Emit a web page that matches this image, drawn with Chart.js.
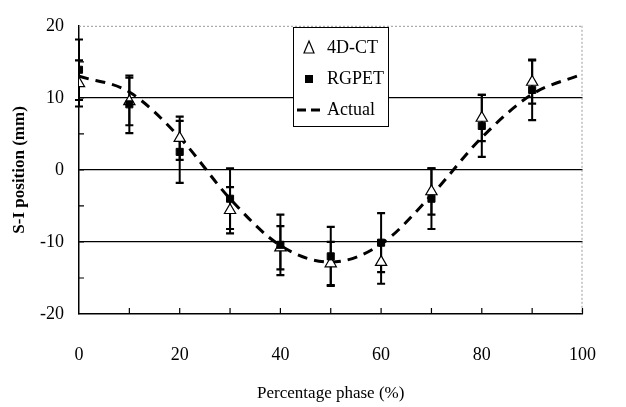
<!DOCTYPE html>
<html>
<head>
<meta charset="utf-8">
<script src="https://cdn.jsdelivr.net/npm/chart.js@4/dist/chart.umd.min.js"></script>
<style>
  html, body { margin: 0; padding: 0; background: #fff; }
  #wrap { width: 626px; height: 407px; position: relative; }
</style>
</head>
<body>
<div id="wrap"><canvas id="c" width="626" height="407"></canvas></div>
<script>
// ---- data ----
const phases = [0, 10, 20, 30, 40, 50, 60, 70, 80, 90];
const ct4d = [12, 9.5, 4.4, -5.6, -10.8, -13, -12.8, -3, 7.2, 12.2];
const ct4dErr = [3.2, 3.3, 3.0, 3.2, 3.0, 3.0, 3.0, 3.2, 3.2, 3.0];
const rgpet = [13.9, 9.1, 2.5, -4, -10.4, -12, -10.1, -4, 6.1, 11.1];
const rgpetErr = [4.2, 4.0, 4.3, 4.2, 4.2, 4.1, 4.1, 4.2, 4.3, 4.2];
const actualPhases = [0, 10, 20, 30, 40, 50, 60, 70, 80, 90, 100];
const actual = [13, 10.8, 4.5, -4, -10.5, -12.8, -10.3, -3.5, 4.5, 10.5, 13.3];
const yTicks = [-20, -10, 0, 10, 20];
const xTicks = [0, 20, 40, 60, 80, 100];
const legendLabels = ['4D-CT', 'RGPET', 'Actual'];

const FONT = "'Liberation Serif', 'Times New Roman', serif";

const pts = (xs, ys) => xs.map((x, i) => ({ x: x, y: ys[i] }));

const errorBars = {
  id: 'errorBars',
  beforeDatasetsDraw(chart) {
    const ctx = chart.ctx;
    const xs = chart.scales.x, ys = chart.scales.y;
    ctx.save();
    ctx.strokeStyle = '#000';
    chart.data.datasets.forEach((ds) => {
      if (!ds.errors) return;
      ds.data.forEach((p, i) => {
        const e = ds.errors[i];
        const px = xs.getPixelForValue(p.x);
        const top = ys.getPixelForValue(p.y + e);
        const bot = ys.getPixelForValue(p.y - e);
        ctx.lineWidth = 2;
        ctx.beginPath();
        ctx.moveTo(px, top); ctx.lineTo(px, bot);
        ctx.stroke();
        ctx.lineWidth = 2.2;
        ctx.beginPath();
        ctx.moveTo(px - 4, top); ctx.lineTo(px + 4, top);
        ctx.moveTo(px - 4, bot); ctx.lineTo(px + 4, bot);
        ctx.stroke();
      });
    });
    ctx.restore();
  }
};

const frame = {
  id: 'frame',
  beforeDatasetsDraw(chart) {
    const ctx = chart.ctx;
    const a = chart.chartArea;
    const xs = chart.scales.x, ys = chart.scales.y;
    ctx.save();
    ctx.strokeStyle = '#999';
    ctx.lineWidth = 1;
    ctx.setLineDash([2, 2]);
    ctx.beginPath();
    ctx.moveTo(a.left, a.top + 0.5); ctx.lineTo(a.right, a.top + 0.5);
    ctx.moveTo(a.right - 0.5, a.top); ctx.lineTo(a.right - 0.5, a.bottom);
    ctx.stroke();
    ctx.setLineDash([]);
    ctx.strokeStyle = '#000';
    ctx.lineWidth = 1.2;
    ctx.beginPath();
    for (let v = -15; v <= 15; v += 5) {
      const py = ys.getPixelForValue(v);
      ctx.moveTo(a.left, py); ctx.lineTo(a.left + 5, py);
    }
    for (let v = 10; v <= 100; v += 10) {
      const px = xs.getPixelForValue(v);
      ctx.moveTo(px, a.bottom); ctx.lineTo(px, a.bottom - 6);
    }
    ctx.stroke();
    ctx.restore();
  }
};

const boxLegend = {
  id: 'boxLegend',
  afterDraw(chart) {
    const ctx = chart.ctx;
    const L = 293, T = 27, W = 95, H = 99;
    ctx.save();
    ctx.fillStyle = '#fff';
    ctx.fillRect(L, T, W, H);
    ctx.strokeStyle = '#000';
    ctx.lineWidth = 1;
    ctx.strokeRect(L + 0.5, T + 0.5, W, H);
    ctx.font = "18px " + FONT;
    ctx.fillStyle = '#000';
    ctx.textBaseline = 'middle';
    ctx.textAlign = 'left';
    const ty = T + 21;
    ctx.lineWidth = 1.2;
    ctx.beginPath();
    ctx.moveTo(309, ty - 7); ctx.lineTo(314, ty + 5); ctx.lineTo(304, ty + 5); ctx.closePath();
    ctx.stroke();
    ctx.fillText(legendLabels[0], 327, ty);
    const sy = T + 52;
    ctx.fillRect(305, sy - 4, 8, 8);
    ctx.fillText(legendLabels[1], 327, sy);
    const dy = T + 83;
    ctx.lineWidth = 3;
    ctx.setLineDash([9, 5]);
    ctx.beginPath();
    ctx.moveTo(297, dy); ctx.lineTo(325, dy);
    ctx.stroke();
    ctx.setLineDash([]);
    ctx.fillText(legendLabels[2], 327, dy);
    ctx.restore();
  }
};

new Chart(document.getElementById('c'), {
  type: 'scatter',
  data: {
    datasets: [
      {
        label: legendLabels[2],
        type: 'line',
        data: pts(actualPhases, actual),
        borderColor: '#000',
        borderWidth: 3,
        borderDash: [10, 7],
        pointRadius: 0,
        fill: false,
        cubicInterpolationMode: 'monotone',
        order: 3
      },
      {
        label: legendLabels[0],
        data: pts(phases, ct4d),
        errors: ct4dErr,
        pointStyle: 'triangle',
        pointRadius: 6.5,
        backgroundColor: '#fff',
        borderColor: '#000',
        borderWidth: 1.2,
        order: 2
      },
      {
        label: legendLabels[1],
        data: pts(phases, rgpet),
        errors: rgpetErr,
        pointStyle: 'rect',
        pointRadius: 5,
        backgroundColor: '#000',
        borderColor: '#000',
        borderWidth: 1,
        order: 1
      }
    ]
  },
  options: {
    responsive: false,
    animation: false,
    layout: { padding: { left: 0, right: 24, top: 16, bottom: 0 } },
    plugins: { legend: { display: false }, tooltip: { enabled: false } },
    scales: {
      x: {
        type: 'linear',
        min: 0, max: 100,
        afterFit(s) { s.height = 93; },
        afterBuildTicks(s) { s.ticks = xTicks.map(v => ({ value: v })); },
        grid: { display: false, drawTicks: false },
        border: { display: true, color: '#000', width: 1.5 },
        ticks: { color: '#000', padding: 30, font: { family: FONT, size: 18 } },
        title: { display: true, text: 'Percentage phase (%)', color: '#000',
                 font: { family: FONT, size: 17 }, padding: { top: 0, bottom: 3 } }
      },
      y: {
        type: 'linear',
        min: -20, max: 20,
        afterFit(s) { s.width = 79; },
        afterBuildTicks(s) { s.ticks = yTicks.map(v => ({ value: v })); },
        grid: {
          drawTicks: false,
          color: (c) => (c.tick && [10, 0, -10].includes(c.tick.value)) ? '#000' : 'rgba(0,0,0,0)',
          lineWidth: 1.2
        },
        border: { display: true, color: '#000', width: 1.5 },
        ticks: { color: '#000', padding: 15, font: { family: FONT, size: 18 } },
        title: { display: true, text: 'S-I position (mm)', color: '#000',
                 font: { family: FONT, size: 17, weight: 'bold' }, padding: { top: 9, bottom: 0 } }
      }
    }
  },
  plugins: [frame, errorBars, boxLegend]
});
</script>
</body>
</html>
